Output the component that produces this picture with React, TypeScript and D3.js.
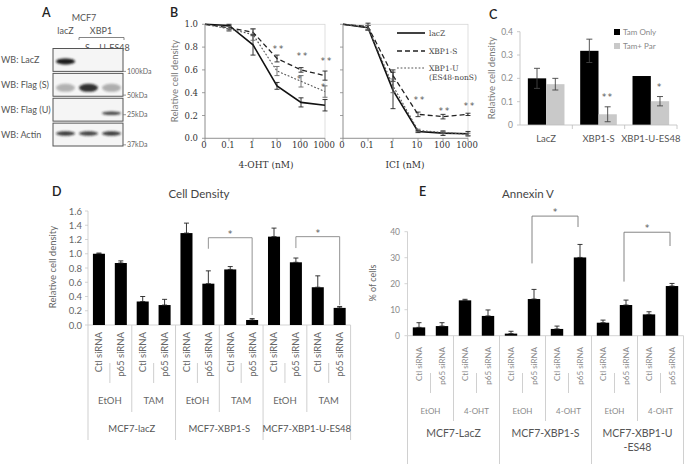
import React from "react";
import * as d3 from "d3";

const SANS = "Lato, 'Open Sans', 'DejaVu Sans', sans-serif";
const SERIF = "'DejaVu Serif', 'Liberation Serif', serif";

// ---------- Panel A: western blot ----------
const blotLanes = ["lacZ", "S", "U-ES48"];
const blotRows = ["WB: LacZ", "WB: Flag (S)", "WB: Flag (U)", "WB: Actin"];
const blotBands = [
  [1.0, 0, 0],
  [0.3, 0.9, 0.32],
  [0, 0, 0.8],
  [0.85, 0.82, 0.85],
];
const blotMarkers = ["100kDa", "50kDa", "25kDa", "37kDa"];

// ---------- Panel B: dose response ----------
const doses = ["0", "0.1", "1", "10", "100", "1000"];
const bSeries = ["lacZ", "XBP1-S", "XBP1-U"];
const ohtLacZ = [1.0, 0.99, 0.82, 0.46, 0.315, 0.29];
const ohtLacZErr = [0, 0.01, 0.09, 0.03, 0.04, 0.05];
const ohtS = [1.0, 0.97, 0.93, 0.7, 0.6, 0.55];
const ohtSErr = [0, 0.02, 0.03, 0.03, 0.02, 0.04];
const ohtU = [1.0, 0.96, 0.91, 0.59, 0.5, 0.41];
const ohtUErr = [0, 0.02, 0.05, 0.04, 0.05, 0.05];
const iciLacZ = [1.0, 0.97, 0.42, 0.06, 0.045, 0.04];
const iciLacZErr = [0, 0.02, 0.16, 0.01, 0.02, 0.02];
const iciS = [1.0, 0.98, 0.55, 0.21, 0.19, 0.21];
const iciSErr = [0, 0.03, 0.05, 0.02, 0.02, 0.01];
const iciU = [1.0, 0.97, 0.46, 0.07, 0.05, 0.035];
const iciUErr = [0, 0.02, 0.06, 0.01, 0.01, 0.01];
const ohtStars = ["", "", "", "**", "**", "**"];
const ohtStarAt = [0, 0, 0, 0.8, 0.737, 0.7];
const ohtStars2 = ["", "", "", "", "*", "*"];
const ohtStar2At = [0, 0, 0, 0, 0.54, 0.47];
const iciStars = ["", "", "", "**", "**", "**"];
const iciStarAt = [0, 0, 0, 0.355, 0.254, 0.3];
const bTicks = [0, 0.2, 0.4, 0.6, 0.8, 1.0];

// ---------- Panel C ----------
const cGroups = ["LacZ", "XBP1-S", "XBP1-U-ES48"];
const cSeries = ["Tam Only", "Tam+ Par"];
const tamOnly = [0.2, 0.318, 0.21];
const tamOnlyErr = [0.043, 0.05, 0];
const tamPar = [0.175, 0.046, 0.102];
const tamParErr = [0.025, 0.032, 0.02];
const cSig = ["", "**", "*"];
const cTicks = [0, 0.1, 0.2, 0.3, 0.4];

// ---------- Panel D & E shared categories ----------
const siRNAs = ["Ctl siRNA", "p65 siRNA"];
const dTreats = ["EtOH", "TAM"];
const dLines = ["MCF7-lacZ", "MCF7-XBP1-S", "MCF7-XBP1-U-ES48"];
const dValues = [1.0, 0.87, 0.33, 0.28, 1.29, 0.58, 0.78, 0.07, 1.24, 0.88, 0.53, 0.24];
const dErr = [0.01, 0.03, 0.07, 0.08, 0.14, 0.18, 0.04, 0.02, 0.12, 0.06, 0.16, 0.02];
const dTicks = [0, 0.2, 0.4, 0.6, 0.8, 1.0, 1.2, 1.4, 1.6];
const dBrackets = [
  { from: 5, to: 7, top: 1.225, left: 1.07, right: 0.14 },
  { from: 9, to: 11, top: 1.24, left: 1.08, right: 0.28 },
];

const eTreats = ["EtOH", "4-OHT"];
const eLines = [["MCF7-LacZ"], ["MCF7-XBP1-S"], ["MCF7-XBP1-U", "-ES48"]];
const eValues = [3.2, 3.7, 13.6, 7.6, 0.8, 14.1, 2.6, 30.1, 5.0, 11.8, 8.2, 19.1];
const eErr = [1.8, 1.3, 0.4, 2.3, 0.9, 3.7, 1.1, 5.0, 1.0, 1.9, 1.0, 1.0];
const eTicks = [0, 10, 20, 30, 40];
const eBrackets = [
  { from: 5, to: 7, top: 46, left: 27.8, right: 41.8 },
  { from: 9, to: 11, top: 39.8, left: 20.8, right: 34.5 },
];

type AxisCfg = {
  labelTop: number;
  innerSep: [number, number];
  treatSepEnd: number;
  lineSepEnd: number;
  treatY: number;
  lineY: number;
  fs1: number;
  fs2: number;
  fs3: number;
  c1: string;
  c2: string;
  c3: string;
  lineColor: string;
};

function MultiAxis({
  x,
  y0,
  treats,
  lines,
  cfg,
}: {
  x: d3.ScaleBand<number>;
  y0: number;
  treats: string[];
  lines: string[][];
  cfg: AxisCfg;
}) {
  const n = x.domain().length;
  const [r0] = x.range();
  const step = x.step();
  const bx = (k: number) => r0 + k * step;
  const elems: React.ReactNode[] = [];
  for (let k = 0; k <= n; k++) {
    const xx = bx(k);
    if (k % 4 === 0) {
      elems.push(<line key={"s" + k} x1={xx} x2={xx} y1={y0} y2={cfg.lineSepEnd} stroke={cfg.lineColor} strokeWidth={1} />);
    } else if (k % 2 === 0) {
      elems.push(<line key={"s" + k} x1={xx} x2={xx} y1={y0} y2={cfg.treatSepEnd} stroke={cfg.lineColor} strokeWidth={1} />);
    } else {
      elems.push(<line key={"s" + k} x1={xx} x2={xx} y1={cfg.innerSep[0]} y2={cfg.innerSep[1]} stroke={cfg.lineColor} strokeWidth={1} />);
    }
  }
  x.domain().forEach((i) => {
    const cx = (x(i) as number) + x.bandwidth() / 2;
    elems.push(
      <text
        key={"l1" + i}
        transform={`translate(${cx + cfg.fs1 * 0.36},${cfg.labelTop}) rotate(-90)`}
        textAnchor="end"
        fontSize={cfg.fs1}
        fill={cfg.c1}
        fontFamily={SANS}
      >
        {siRNAs[i % 2]}
      </text>
    );
  });
  for (let t = 0; t < n / 2; t++) {
    const cx = (bx(t * 2) + bx(t * 2 + 2)) / 2;
    elems.push(
      <text key={"l2" + t} x={cx} y={cfg.treatY} textAnchor="middle" dominantBaseline="central" fontSize={cfg.fs2} fill={cfg.c2} fontFamily={SANS}>
        {treats[t % 2]}
      </text>
    );
  }
  lines.forEach((ln, g) => {
    const cx = (bx(g * 4) + bx(g * 4 + 4)) / 2;
    ln.forEach((s, j) =>
      elems.push(
        <text key={"l3" + g + "_" + j} x={cx} y={cfg.lineY + j * cfg.fs3 * 1.35} textAnchor="middle" dominantBaseline="central" fontSize={cfg.fs3} fill={cfg.c3} fontFamily={SANS}>
          {s}
        </text>
      )
    );
  });
  return <g>{elems}</g>;
}

function ErrBar({ x, y1, y2, w = 6, color = "#333" }: { x: number; y1: number; y2: number; w?: number; color?: string }) {
  return (
    <g stroke={color} strokeWidth={0.9}>
      <line x1={x} x2={x} y1={y1} y2={y2} />
      <line x1={x - w / 2} x2={x + w / 2} y1={y1} y2={y1} />
      <line x1={x - w / 2} x2={x + w / 2} y1={y2} y2={y2} />
    </g>
  );
}

export default function App() {
  // ---- A ----
  const rowY = d3.scaleBand<string>().domain(blotRows).range([48.5, 146]).paddingInner(0.08);
  const laneX = d3.scaleBand<string>().domain(blotLanes).range([54, 123]).paddingInner(0.1).paddingOuter(0.05);
  const bandDy = [1.5, 3, 3.5, -1];
  const bandRy = [3, 4, 1.8, 2.2];
  const markerFrac = [1.0, 0.95, 0.72, 0.95];

  // ---- B ----
  const yB = d3.scaleLinear().domain([0, 1]).range([138.3, 24.3]);
  const xBL = d3.scalePoint<string>().domain(doses).range([205, 325]);
  const xBR = d3.scalePoint<string>().domain(doses).range([343, 468]);
  const bStyles = [
    { dash: "", w: 1.6, c: "#111" },
    { dash: "5,3", w: 1.3, c: "#222" },
    { dash: "1.8,1.8", w: 1.1, c: "#555" },
  ];
  const ohtSets = [ohtLacZ, ohtS, ohtU];
  const ohtErrs = [ohtLacZErr, ohtSErr, ohtUErr];
  const iciSets = [iciLacZ, iciS, iciU];
  const iciErrs = [iciLacZErr, iciSErr, iciUErr];

  const renderCurves = (xs: d3.ScalePoint<string>, sets: number[][], errs: number[][], key: string) => (
    <g key={key}>
      {sets.map((vals, si) => {
        const line = d3
          .line<number>()
          .x((_, i) => xs(doses[i]) as number)
          .y((v) => yB(v));
        return (
          <g key={si}>
            <path d={line(vals) || ""} fill="none" stroke={bStyles[si].c} strokeWidth={bStyles[si].w} strokeDasharray={bStyles[si].dash} />
            {vals.map((v, i) =>
              errs[si][i] > 0 ? (
                <ErrBar key={i} x={xs(doses[i]) as number} y1={yB(v + errs[si][i])} y2={yB(v - errs[si][i])} w={5} color={si === 2 ? "#666" : "#222"} />
              ) : null
            )}
          </g>
        );
      })}
    </g>
  );

  // ---- C ----
  const yC = d3.scaleLinear().domain([0, 0.4]).range([125, 31.7]);
  const xC = d3.scaleBand<string>().domain(cGroups).range([520, 677]).paddingInner(0.3).paddingOuter(0.15);
  const xCs = d3.scaleBand<string>().domain(cSeries).range([0, xC.bandwidth()]);
  const cSets = [tamOnly, tamPar];
  const cErrs = [tamOnlyErr, tamParErr];
  const cColors = ["#000", "#c9c9c9"];

  // ---- D ----
  const xD = d3.scaleBand<number>().domain(d3.range(12)).range([88, 350.6]).paddingInner(0.45).paddingOuter(0.225);
  const yD = d3.scaleLinear().domain([0, 1.6]).range([325, 211]);
  // ---- E ----
  const xE = d3.scaleBand<number>().domain(d3.range(12)).range([407.5, 683.5]).paddingInner(0.46).paddingOuter(0.23);
  const yE = d3.scaleLinear().domain([0, 40]).range([335.7, 231.7]);

  const cxD = (i: number) => (xD(i) as number) + xD.bandwidth() / 2;
  const cxE = (i: number) => (xE(i) as number) + xE.bandwidth() / 2;

  const panelLabel = (t: string, x: number, y: number) => (
    <text x={x} y={y} fontSize={12.5} fontFamily={SANS} fill="#222" fontWeight={600}>
      {t}
    </text>
  );

  const starStyle = { fontFamily: "'DejaVu Sans', sans-serif", fontSize: 8.5, fill: "#555" };

  return (
    <div style={{ position: "absolute", left: 0, top: 0 }}>
      <svg width={696} height={464} style={{ display: "block", background: "#fff" }}>
        <defs>
          <filter id="blur" x="-50%" y="-150%" width="200%" height="400%">
            <feGaussianBlur stdDeviation="1.1" />
          </filter>
        </defs>

        {/* ================= Panel A ================= */}
        {panelLabel("A", 42, 17)}
        <g fontFamily={SANS} fill="#555">
          <text x={84} y={21} fontSize={9} textAnchor="middle">MCF7</text>
          <text x={laneX.bandwidth() / 2 + (laneX("lacZ") as number)} y={34} fontSize={9} textAnchor="middle">lacZ</text>
          <text x={101} y={34} fontSize={9} textAnchor="middle">XBP1</text>
          <path d="M79,40 V37.5 H124 V40" fill="none" stroke="#666" strokeWidth={0.8} />
          {blotLanes.slice(1).map((l) => (
            <text key={l} x={(laneX(l) as number) + laneX.bandwidth() / 2 + (l === "S" ? -1 : 3)} y={51} fontSize={9} textAnchor="middle">
              {l}
            </text>
          ))}
        </g>
        {blotRows.map((r, ri) => {
          const y = rowY(r) as number;
          const h = rowY.bandwidth();
          return (
            <g key={r}>
              <text x={1} y={y + h / 2 + 3} fontSize={9} fontFamily={SANS} fill="#555">
                {r}
              </text>
              <rect x={53} y={y} width={70} height={h} fill="#f5f5f5" stroke="#555" strokeWidth={1} />
              {blotLanes.map((l, li) =>
                blotBands[ri][li] > 0 ? (
                  <ellipse
                    key={l}
                    cx={(laneX(l) as number) + laneX.bandwidth() / 2}
                    cy={y + h / 2 + bandDy[ri]}
                    rx={laneX.bandwidth() * 0.46}
                    ry={bandRy[ri]}
                    fill="#1a1a1a"
                    opacity={blotBands[ri][li]}
                    filter="url(#blur)"
                  />
                ) : null
              )}
              <line x1={123} x2={126} y1={y + h * markerFrac[ri]} y2={y + h * markerFrac[ri]} stroke="#777" strokeWidth={0.8} />
              <text x={127} y={y + h * markerFrac[ri] + 2.5} fontSize={7} fontFamily={SANS} fill="#666">
                {blotMarkers[ri]}
              </text>
            </g>
          );
        })}

        {/* ================= Panel B ================= */}
        {panelLabel("B", 170, 17)}
        <text transform="translate(178,81) rotate(-90)" textAnchor="middle" fontSize={9.5} fontFamily={SANS} fill="#7a7a7a">
          Relative cell density
        </text>
        {/* frames */}
        <rect x={205} y={24.3} width={120} height={114} fill="none" stroke="#d6d6d6" strokeWidth={0.8} />
        <rect x={343} y={24.3} width={125} height={114} fill="none" stroke="#d6d6d6" strokeWidth={0.8} />
        {[xBL, xBR].map((xs, pi) => {
          const x0 = xs.range()[0];
          return (
            <g key={pi} stroke="#888" strokeWidth={0.8}>
              <line x1={x0} x2={x0} y1={yB(0)} y2={yB(1)} />
              <line x1={x0} x2={xs.range()[1]} y1={yB(0)} y2={yB(0)} />
              {bTicks.map((t) => (
                <line key={t} x1={x0 - 3} x2={x0} y1={yB(t)} y2={yB(t)} />
              ))}
              {doses.map((d) => (
                <line key={d} x1={xs(d) as number} x2={xs(d) as number} y1={yB(0)} y2={yB(0) + 3} />
              ))}
            </g>
          );
        })}
        {bTicks.map((t) => (
          <text key={t} x={198} y={yB(t) + 3} textAnchor="end" fontSize={8.5} fontFamily={SERIF} fill="#333">
            {t.toFixed(1)}
          </text>
        ))}
        {[xBL, xBR].map((xs, pi) =>
          doses.map((d) => (
            <text key={pi + d} x={(xs(d) as number) - 1} y={148} textAnchor="middle" fontSize={8.5} fontFamily={SERIF} fill="#333">
              {d}
            </text>
          ))
        )}
        <text x={266} y={168} textAnchor="middle" fontSize={9} fontFamily={SERIF} fill="#333">
          4-OHT (nM)
        </text>
        <text x={405} y={168} textAnchor="middle" fontSize={9} fontFamily={SERIF} fill="#333">
          ICI (nM)
        </text>
        {renderCurves(xBL, ohtSets, ohtErrs, "oht")}
        {renderCurves(xBR, iciSets, iciErrs, "ici")}
        <g {...starStyle} textAnchor="middle">
          {doses.map((d, i) =>
            ohtStars[i] ? (
              <text key={"a" + d} x={(xBL(d) as number) + 2} y={yB(ohtStarAt[i]) + 5} letterSpacing={2}>
                {ohtStars[i]}
              </text>
            ) : null
          )}
          {doses.map((d, i) =>
            ohtStars2[i] ? (
              <text key={"b" + d} x={(xBL(d) as number) - 2} y={yB(ohtStar2At[i]) + 5}>
                {ohtStars2[i]}
              </text>
            ) : null
          )}
          {doses.map((d, i) =>
            iciStars[i] ? (
              <text key={"c" + d} x={(xBR(d) as number) + 2} y={yB(iciStarAt[i]) + 5} letterSpacing={2}>
                {iciStars[i]}
              </text>
            ) : null
          )}
        </g>
        {/* legend */}
        {bSeries.map((s, i) => {
          const ly = [33, 51, 68][i];
          return (
            <g key={s}>
              <line x1={397} x2={425} y1={ly} y2={ly} stroke={bStyles[i].c} strokeWidth={bStyles[i].w} strokeDasharray={bStyles[i].dash} />
              <text x={429} y={ly + 3} fontSize={7.5} fontFamily={SERIF} fill="#444">
                {s}
              </text>
            </g>
          );
        })}
        <text x={429} y={80} fontSize={7.5} fontFamily={SERIF} fill="#444">
          (ES48-nonS)
        </text>

        {/* ================= Panel C ================= */}
        {panelLabel("C", 489, 19)}
        <text transform="translate(495,78) rotate(-90)" textAnchor="middle" fontSize={9.5} fontFamily={SANS} fill="#7a7a7a">
          Relative cell density
        </text>
        <g stroke="#bdbdbd" strokeWidth={0.8}>
          <line x1={520} x2={520} y1={yC(0)} y2={yC(0.4)} />
          {cTicks.map((t) => (
            <line key={t} x1={517} x2={520} y1={yC(t)} y2={yC(t)} />
          ))}
        </g>
        {cTicks.map((t) => (
          <text key={t} x={513} y={yC(t) + 3} textAnchor="end" fontSize={8.5} fontFamily={SANS} fill="#8a8a8a">
            {t === 0 ? "0" : t.toFixed(1)}
          </text>
        ))}
        {cGroups.map((g, gi) => (
          <g key={g}>
            {cSeries.map((s, si) => {
              const x = (xC(g) as number) + (xCs(s) as number);
              const v = cSets[si][gi];
              const e = cErrs[si][gi];
              return (
                <g key={s}>
                  <rect x={x} y={yC(v)} width={xCs.bandwidth()} height={yC(0) - yC(v)} fill={cColors[si]} />
                  {e > 0 ? <ErrBar x={x + xCs.bandwidth() / 2} y1={yC(v + e)} y2={yC(Math.max(0, v - e))} w={6} color="#444" /> : null}
                </g>
              );
            })}
            {cSig[gi] ? (
              <text
                x={(xC(g) as number) + (xCs(cSeries[1]) as number) + xCs.bandwidth() / 2}
                y={yC(tamPar[gi] + tamParErr[gi]) - 7}
                textAnchor="middle"
                letterSpacing={1.5}
                {...starStyle}
              >
                {cSig[gi]}
              </text>
            ) : null}
            <text x={(xC(g) as number) + xC.bandwidth() / 2} y={142} textAnchor="middle" fontSize={9.5} fontFamily={SANS} fill="#555">
              {g}
            </text>
          </g>
        ))}
        <g stroke="#bdbdbd" strokeWidth={0.8}>
          <line x1={520} x2={677} y1={yC(0)} y2={yC(0)} />
          {[1, 2, 3].map((k) => {
            const xx = 520 + k * xC.step();
            return <line key={k} x1={xx} x2={xx} y1={yC(0)} y2={yC(0) + 4} />;
          })}
        </g>
        {cSeries.map((s, si) => (
          <g key={s}>
            <rect x={614} y={29 + si * 14} width={6} height={6} fill={cColors[si]} />
            <text x={623} y={35 + si * 14} fontSize={8} fontFamily={SANS} fill="#888">
              {s}
            </text>
          </g>
        ))}

        {/* ================= Panel D ================= */}
        {panelLabel("D", 52, 196)}
        <text x={199} y={198} textAnchor="middle" fontSize={11.5} fontFamily={SANS} fill="#444">
          Cell Density
        </text>
        <text transform="translate(56,267) rotate(-90)" textAnchor="middle" fontSize={9.5} fontFamily={SANS} fill="#666">
          Relative cell density
        </text>
        <g stroke="#c8c8c8" strokeWidth={0.8}>
          <line x1={88} x2={88} y1={yD(1.6)} y2={yD(0)} />
          {dTicks.map((t) => (
            <line key={t} x1={85} x2={88} y1={yD(t)} y2={yD(t)} />
          ))}
          <line x1={88} x2={350.6} y1={yD(0)} y2={yD(0)} />
        </g>
        {dTicks.map((t) => (
          <text key={t} x={82} y={yD(t) + 3.5} textAnchor="end" fontSize={9.5} fontFamily={SANS} fill="#666">
            {t.toFixed(1)}
          </text>
        ))}
        {dValues.map((v, i) => (
          <g key={i}>
            <rect x={xD(i) as number} y={yD(v)} width={xD.bandwidth()} height={yD(0) - yD(v)} fill="#000" />
            <ErrBar x={cxD(i)} y1={yD(v + dErr[i])} y2={yD(v)} w={5} color="#222" />
          </g>
        ))}
        {dBrackets.map((b, i) => (
          <g key={i}>
            <path
              d={`M${cxD(b.from)},${yD(b.left)} V${yD(b.top)} H${cxD(b.to)} V${yD(b.right)}`}
              fill="none"
              stroke="#888"
              strokeWidth={0.9}
            />
            <text x={(cxD(b.from) + cxD(b.to)) / 2} y={yD(b.top) - 1} textAnchor="middle" {...starStyle}>
              *
            </text>
          </g>
        ))}
        <MultiAxis
          x={xD}
          y0={yD(0)}
          treats={dTreats}
          lines={dLines.map((l) => [l])}
          cfg={{
            labelTop: 332,
            innerSep: [363, 383],
            treatSepEnd: 412,
            lineSepEnd: 440,
            treatY: 400,
            lineY: 428,
            fs1: 9.5,
            fs2: 9.5,
            fs3: 9.5,
            c1: "#666",
            c2: "#666",
            c3: "#555",
            lineColor: "#cfcfcf",
          }}
        />

        {/* ================= Panel E ================= */}
        {panelLabel("E", 419, 196)}
        <text x={528} y={198} textAnchor="middle" fontSize={11.5} fontFamily={SANS} fill="#444">
          Annexin V
        </text>
        <text transform="translate(376,283) rotate(-90)" textAnchor="middle" fontSize={9} fontFamily={SANS} fill="#666">
          % of cells
        </text>
        <g stroke="#c8c8c8" strokeWidth={0.8}>
          <line x1={407.5} x2={407.5} y1={yE(40)} y2={yE(0)} />
          {eTicks.map((t) => (
            <line key={t} x1={404.5} x2={407.5} y1={yE(t)} y2={yE(t)} />
          ))}
          <line x1={407.5} x2={683.5} y1={yE(0)} y2={yE(0)} />
        </g>
        {eTicks.map((t) => (
          <text key={t} x={400} y={yE(t) + 3} textAnchor="end" fontSize={8.5} fontFamily={SANS} fill="#8a8a8a">
            {t}
          </text>
        ))}
        {eValues.map((v, i) => (
          <g key={i}>
            <rect x={xE(i) as number} y={yE(v)} width={xE.bandwidth()} height={yE(0) - yE(v)} fill="#000" />
            <ErrBar x={cxE(i)} y1={yE(v + eErr[i])} y2={yE(v)} w={5} color="#222" />
          </g>
        ))}
        {eBrackets.map((b, i) => (
          <g key={i}>
            <path
              d={`M${cxE(b.from) - 2},${yE(b.left)} V${yE(b.top)} H${cxE(b.to) - 2} V${yE(b.right)}`}
              fill="none"
              stroke="#777"
              strokeWidth={0.9}
            />
            <text x={(cxE(b.from) + cxE(b.to)) / 2 - 2} y={yE(b.top) - 1} textAnchor="middle" {...starStyle}>
              *
            </text>
          </g>
        ))}
        <MultiAxis
          x={xE}
          y0={yE(0)}
          treats={eTreats}
          lines={eLines}
          cfg={{
            labelTop: 347,
            innerSep: [373, 393],
            treatSepEnd: 421,
            lineSepEnd: 464,
            treatY: 411,
            lineY: 433,
            fs1: 8,
            fs2: 8,
            fs3: 10.5,
            c1: "#8a8a8a",
            c2: "#8a8a8a",
            c3: "#555",
            lineColor: "#d0d0d0",
          }}
        />
      </svg>
    </div>
  );
}
